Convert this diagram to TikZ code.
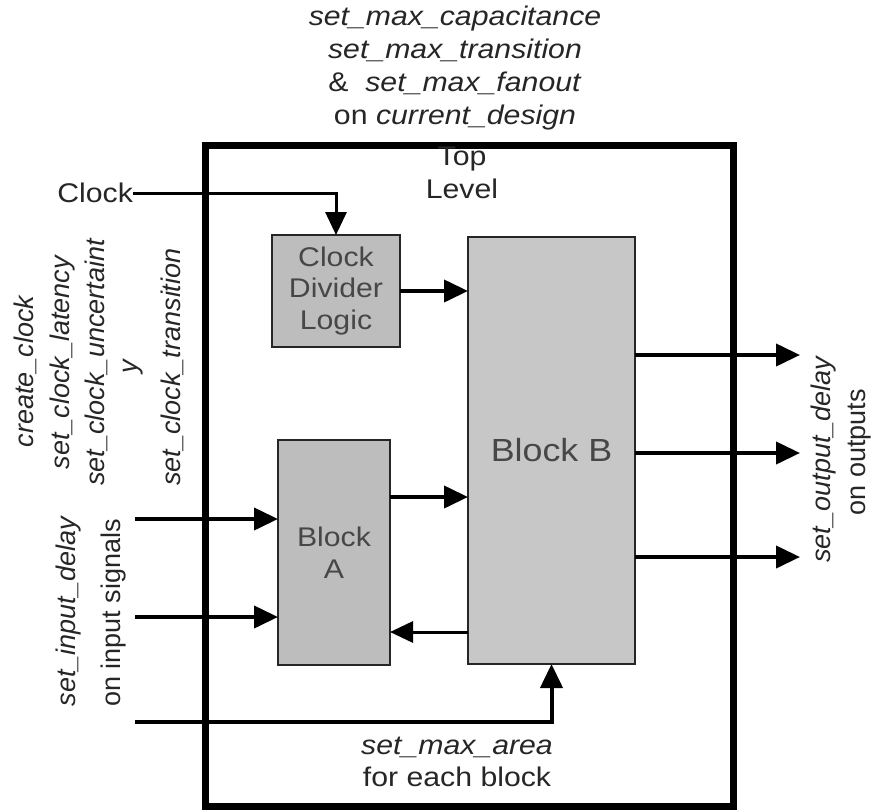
\documentclass[tikz,border=0pt]{standalone}
\usepackage{fontspec}
\setmainfont{Liberation Sans}
\newfontfamily\hf[FakeStretch=1.12]{Liberation Sans}
\usetikzlibrary{arrows.meta}
\definecolor{fillA}{HTML}{BDBDBD}
\definecolor{fillB}{HTML}{C7C7C7}
\begin{document}
\begin{tikzpicture}[x=1pt,y=-1pt,
  every node/.style={inner sep=0pt, outer sep=0pt},
  lbl/.style={font=\hf\fontsize{27}{32.5}\selectfont, align=center, text=black!85},
  vlbl/.style={font=\fontsize{27}{32.5}\selectfont, rotate=90, anchor=base, text=black!85},
  blk/.style={draw=black!85, line width=2pt, fill=#1, font=\hf\fontsize{27}{31.5}\selectfont, text=black!72, align=center},
  frame/.style={draw=black, line width=7pt},
  arr/.style={line width=4pt, -{Triangle[length=24pt,width=22pt]}},
  thinarr/.style={line width=3pt, -{Triangle[length=23pt,width=21pt]}}
]
\useasboundingbox (0,0) rectangle (872,811);

% frame and title
\node[frame, minimum width=528, minimum height=661] (top) at (469,475.5) {};
\node[lbl] (toplbl) at (462,173) {Top\\Level};
\node[lbl, font=\hf\fontsize{27}{32.8}\selectfont] (cons) at (455,68) {\textit{set\_max\_capacitance}\\\textit{set\_max\_transition}\\\&~~\textit{set\_max\_fanout}\\on \textit{current\_design}};

% blocks
\node[blk=fillA, minimum width=128, minimum height=112] (div) at (336,291) {Clock\\Divider\\Logic};
\node[blk=fillA, minimum width=112, minimum height=225] (A) at (334,552.5) {Block\\A};
\node[blk=fillB, minimum width=167, minimum height=427, font=\hf\fontsize{32}{36}\selectfont] (B) at (551.5,450.5) {Block B};

% clock
\node[lbl, anchor=east] (clk) at (133,193) {Clock};
\draw[thinarr] (clk.east) -| (div.north);
\draw[arr] (div.east) -- (div.east -| B.west);

% A <-> B
\draw[arr] (A.east |- 0,497) -- (B.west |- 0,497);
\draw[thinarr] (B.west |- 0,632) -- (A.east |- 0,632);

% inputs
\coordinate (i1) at (135,519);
\coordinate (i2) at (135,617);
\coordinate (i3) at (135,722);
\draw[arr] (i1) -- (i1 -| A.west);
\draw[arr] (i2) -- (i2 -| A.west);
\draw[arr] (i3) -| (B.south);

% outputs
\coordinate (o1) at (800,355);
\coordinate (o2) at (800,453);
\coordinate (o3) at (800,557);
\draw[arr] (B.east |- o1) -- (o1);
\draw[arr] (B.east |- o2) -- (o2);
\draw[arr] (B.east |- o3) -- (o3);

% left labels
\node[vlbl] (l1) at (33,371) {\textit{create\_clock}};
\node[vlbl] (l2) at (69,362) {\textit{set\_clock\_latency}};
\node[vlbl] (l3) at (104,362) {\textit{set\_clock\_uncertaint}};
\node[vlbl] (l4) at (137,366) {\textit{y}};
\node[vlbl] (l5) at (180,367) {\textit{set\_clock\_transition}};
\node[vlbl] (in1) at (75,611) {\textit{set\_input\_delay}};
\node[vlbl] (in2) at (120,613) {on input signals};

% right labels
\node[vlbl] (out1) at (830,459) {\textit{set\_output\_delay}};
\node[vlbl] (out2) at (865,452) {on outputs};

% bottom label
\node[lbl] (area) at (457,762) {\textit{set\_max\_area}\\for each block};
\end{tikzpicture}
\end{document}
